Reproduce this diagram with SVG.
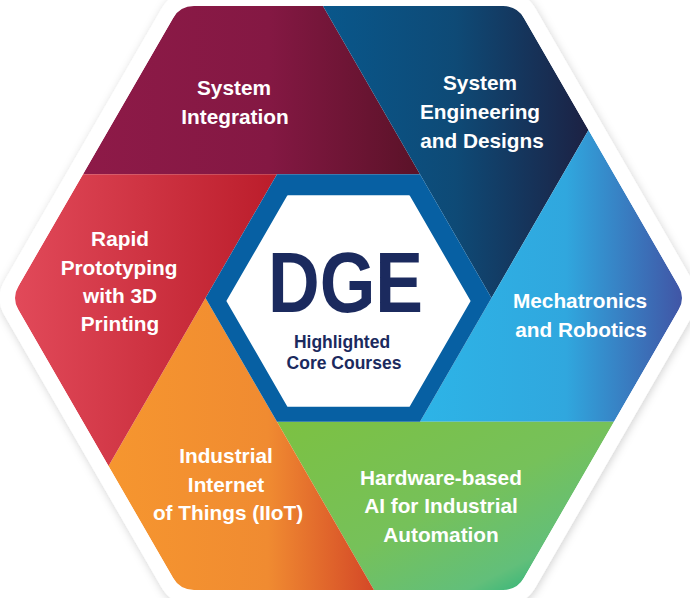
<svg xmlns="http://www.w3.org/2000/svg" width="690" height="598" viewBox="0 0 690 598">
  <defs>
    <style>
      .lbl { font-family: "Liberation Sans", Arial, Helvetica, sans-serif; font-weight: bold; font-size: 20.8px; fill: #ffffff; text-anchor: middle; }
      .sub { font-family: "Liberation Sans", Arial, Helvetica, sans-serif; font-weight: bold; font-size: 17.5px; fill: #1b2a5e; text-anchor: middle; }
      .big { font-family: "Liberation Sans", Arial, Helvetica, sans-serif; font-weight: bold; font-size: 86px; fill: #1b2a5e; }
    </style>
    <filter id="shadow" x="-10%" y="-10%" width="120%" height="120%">
      <feDropShadow dx="1" dy="2" stdDeviation="4" flood-color="#000000" flood-opacity="0.18"/>
    </filter>
    <clipPath id="outerClip">
      <path d="M 18.5,310.1 Q 11.5,298 18.5,285.9 L 173,18.2 Q 180,6.1 194,6.1 L 503,6.1 Q 517,6.1 524,18.2 L 678.5,285.9 Q 685.5,298 678.5,310.1 L 524,577.8 Q 517,589.9 503,589.9 L 194,589.9 Q 180,589.9 173,577.8 Z"/>
    </clipPath>
    <linearGradient id="gMaroon" x1="0" y1="0" x2="1" y2="0">
      <stop offset="0" stop-color="#8e1a48"/>
      <stop offset="0.55" stop-color="#841843"/>
      <stop offset="1" stop-color="#5a1228"/>
    </linearGradient>
    <linearGradient id="gNavy" x1="0" y1="0" x2="1" y2="0">
      <stop offset="0" stop-color="#09578b"/>
      <stop offset="0.5" stop-color="#0e4a76"/>
      <stop offset="1" stop-color="#1c2143"/>
    </linearGradient>
    <linearGradient id="gCyan" x1="0" y1="0" x2="1" y2="0">
      <stop offset="0" stop-color="#2db4e7"/>
      <stop offset="0.55" stop-color="#30a7de"/>
      <stop offset="1" stop-color="#4153a4"/>
    </linearGradient>
    <linearGradient id="gGreen" x1="0" y1="0" x2="1" y2="1">
      <stop offset="0" stop-color="#7cc142"/>
      <stop offset="0.5" stop-color="#76c15a"/>
      <stop offset="0.78" stop-color="#62bf7a"/>
      <stop offset="1" stop-color="#00aa7a"/>
    </linearGradient>
    <linearGradient id="gOrange" x1="0" y1="0" x2="1" y2="0">
      <stop offset="0" stop-color="#f6962f"/>
      <stop offset="0.6" stop-color="#f08b31"/>
      <stop offset="1" stop-color="#d44827"/>
    </linearGradient>
    <linearGradient id="gRed" x1="0" y1="0" x2="1" y2="0">
      <stop offset="0" stop-color="#e24a5a"/>
      <stop offset="1" stop-color="#bb1d2b"/>
    </linearGradient>
  </defs>

  <g id="backdrop">
    <path filter="url(#shadow)" fill="#ffffff" d="M 4.5,315.3 Q -5.5,298 4.5,280.7 L 161.5,8.7 Q 171.5,-8.6 191.5,-8.6 L 505.5,-8.6 Q 525.5,-8.6 535.5,8.7 L 692.5,280.7 Q 702.5,298 692.5,315.3 L 535.5,587.3 Q 525.5,604.6 505.5,604.6 L 191.5,604.6 Q 171.5,604.6 161.5,587.3 Z"/>
  </g>

  <g clip-path="url(#outerClip)">
    <g id="system-integration">
      <polygon fill="url(#gMaroon)" points="83,174.2 180,6.1 323,6.1 420,174.2"/>
      <text class="lbl" x="234" y="95">System</text>
      <text class="lbl" x="235" y="124">Integration</text>
    </g>
    <g id="system-engineering">
      <polygon fill="url(#gNavy)" points="323,6.1 517,6.1 588.5,130 491.5,298 420,174.2"/>
      <text class="lbl" x="480" y="90">System</text>
      <text class="lbl" x="480" y="119">Engineering</text>
      <text class="lbl" x="482" y="148">and Designs</text>
    </g>
    <g id="mechatronics">
      <polygon fill="url(#gCyan)" points="588.5,130 685.5,298 614,421.8 420,421.8 491.5,298"/>
      <text class="lbl" x="580" y="308">Mechatronics</text>
      <text class="lbl" x="581" y="337">and Robotics</text>
    </g>
    <g id="hardware-ai">
      <polygon fill="url(#gGreen)" points="614,421.8 517,589.9 374,589.9 277,421.8"/>
      <text class="lbl" x="441" y="485">Hardware-based</text>
      <text class="lbl" x="441" y="513">AI for Industrial</text>
      <text class="lbl" x="441" y="542">Automation</text>
    </g>
    <g id="iiot">
      <polygon fill="url(#gOrange)" points="374,589.9 180,589.9 108.5,466 205.5,298 277,421.8"/>
      <text class="lbl" x="226" y="463">Industrial</text>
      <text class="lbl" x="226" y="492">Internet</text>
      <text class="lbl" x="228" y="520">of Things (IIoT)</text>
    </g>
    <g id="rapid-prototyping">
      <polygon fill="url(#gRed)" points="108.5,466 11.5,298 83,174.2 277,174.2 205.5,298"/>
      <text class="lbl" x="120" y="246">Rapid</text>
      <text class="lbl" x="119" y="275">Prototyping</text>
      <text class="lbl" x="120" y="303">with 3D</text>
      <text class="lbl" x="120" y="331">Printing</text>
    </g>
  </g>

  <g id="center-dge">
    <polygon fill="#0760a3" points="205.5,298 277,174.2 420,174.2 491.5,298 420,421.8 277,421.8"/>
    <polygon fill="#ffffff" stroke="#ffffff" stroke-width="2" stroke-linejoin="round" points="227.5,301 288,196.3 409,196.3 469.5,301 409,405.7 288,405.7"/>
    <text class="big" x="268" y="312" textLength="155" lengthAdjust="spacingAndGlyphs">DGE</text>
    <text class="sub" x="342" y="348">Highlighted</text>
    <text class="sub" x="344" y="369">Core Courses</text>
  </g>
</svg>
